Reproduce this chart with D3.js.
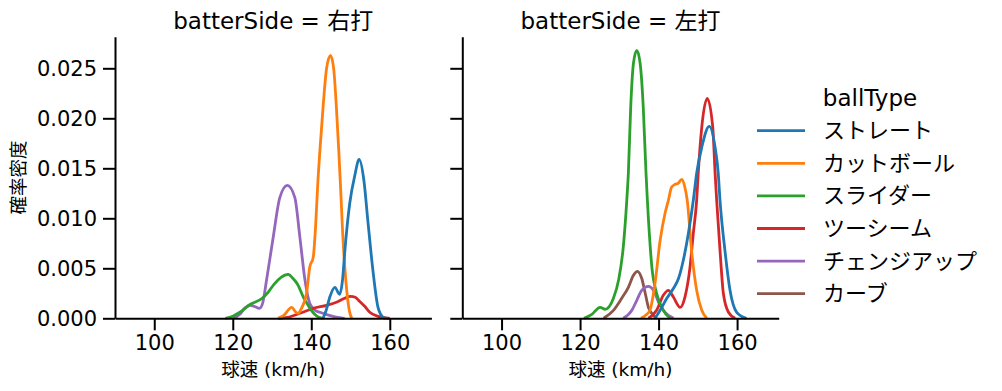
<!DOCTYPE html>
<html>
<head>
<meta charset="utf-8">
<script src="https://cdn.jsdelivr.net/npm/d3@7"></script>
<style>
  body { margin: 0; background: #fff; }
  text { font-family: "DejaVu Sans", "Noto Sans CJK JP", sans-serif; fill: #000; }
</style>
</head>
<body>
<div class="canva"></div>
<script>
// ball types, in hue order
const ballTypes = ["ストレート", "カットボール", "スライダー", "ツーシーム", "チェンジアップ", "カーブ"];
const colors = ["#1f77b4", "#ff7f0e", "#2ca02c", "#d62728", "#9467bd", "#8c564b"];
const sides = ["右打", "左打"];
const xTicks = [100, 120, 140, 160];
const yTicks = [0, 0.005, 0.010, 0.015, 0.020, 0.025];

// KDE curves: [speed, density]
// batterSide = 右打
const straightR = [[143.0,0],[143.8,0.0008],[144.7,0.0021],[146.0,0.0031],[147.2,0.0024],[148.0,0.0040],[148.5,0.0065],[149.8,0.0115],[151.1,0.0143],[152.2,0.0159],[153.4,0.0138],[154.4,0.0098],[155.7,0.0048],[157.0,0.0011],[158.3,0.0001],[158.8,0]];
const cutterR = [[131.5,0],[133.0,0.0003],[135.0,0.0011],[136.1,0.0006],[136.6,0.0005],[137.5,0.0010],[138.8,0.0025],[139.6,0.0051],[140.5,0.0061],[141.1,0.0092],[141.7,0.0138],[142.2,0.0168],[143.0,0.0211],[143.9,0.0250],[144.9,0.0263],[145.7,0.0250],[146.4,0.0211],[147.0,0.0168],[147.5,0.0128],[148.0,0.0085],[148.6,0.0048],[149.4,0.0015],[150.2,0.0001],[150.5,0]];
const sliderR = [[118.1,0],[120.0,0.0002],[121.8,0.0006],[124.5,0.0014],[127.5,0.0020],[129.0,0.0026],[130.5,0.0034],[132.3,0.0041],[134.1,0.0044],[135.3,0.0040],[136.5,0.0034],[138.0,0.0021],[139.2,0.0013],[140.2,0.0007],[141.5,0.0002],[143.0,0]];
const twoSeamR = [[131.6,0],[134.0,0.0001],[137.1,0.0005],[140.5,0.0010],[143.9,0.0013],[146.4,0.0016],[148.5,0.0020],[150.0,0.0022],[151.2,0.0021],[152.3,0.0017],[153.6,0.0012],[154.9,0.0006],[157.0,0.0002],[160.0,0]];
const changeupR = [[120.0,0],[121.8,0.0004],[123.0,0.0010],[124.4,0.0013],[125.5,0.0012],[126.8,0.0010],[127.6,0.0015],[128.6,0.0038],[130.3,0.0081],[132.0,0.0121],[133.9,0.0133],[135.8,0.0121],[137.1,0.0081],[138.4,0.0038],[139.6,0.0015],[141.0,0.0008],[142.2,0.0006],[145.5,0.0002],[148.5,0]];
// batterSide = 左打
const straightL = [[139.1,0],[140.4,0.0008],[142.1,0.0020],[143.8,0.0030],[145.1,0.0040],[146.3,0.0058],[147.6,0.0085],[148.85,0.0118],[149.7,0.0145],[151.0,0.0171],[152.9,0.0192],[154.4,0.0171],[155.2,0.0145],[155.65,0.0118],[156.9,0.0068],[158.2,0.0028],[159.9,0.0006],[162.4,0]];
const cutterL = [[135.5,0],[137.0,0.0004],[137.8,0.0008],[139.1,0.0035],[140.4,0.0078],[141.65,0.0105],[142.5,0.0118],[143.3,0.0131],[144.2,0.0134],[145.0,0.0135],[145.9,0.0139],[146.7,0.0131],[147.3,0.0118],[148.4,0.0068],[149.7,0.0028],[151.0,0.0008],[152.3,0]];
const sliderL = [[121.0,0],[123.0,0.0004],[125.1,0.0011],[126.4,0.0009],[128.5,0.0020],[129.8,0.0038],[131.0,0.0071],[131.9,0.0118],[132.3,0.0145],[132.9,0.0211],[133.6,0.0255],[134.45,0.0268],[135.3,0.0255],[136.1,0.0211],[136.8,0.0145],[137.15,0.0118],[138.3,0.0051],[139.5,0.0025],[141.2,0.0008],[142.9,0]];
const twoSeamL = [[137.4,0],[139.5,0.0008],[141.2,0.0023],[142.5,0.0028],[143.8,0.0021],[145.5,0.0011],[146.7,0.0021],[148.0,0.0051],[148.85,0.0085],[149.7,0.0118],[150.1,0.0145],[151.0,0.0191],[152.4,0.0220],[153.8,0.0191],[154.4,0.0145],[154.8,0.0118],[155.65,0.0068],[156.5,0.0025],[157.8,0.0006],[159.5,0]];
const changeupL = [[131.0,0],[133.2,0.0008],[134.45,0.0018],[135.7,0.0028],[137.4,0.0032],[138.7,0.0028],[140.0,0.0016],[141.65,0.0006],[143.8,0]];
const curveL = [[126.0,0],[128.5,0.0008],[130.6,0.0020],[132.3,0.0031],[133.6,0.0043],[134.6,0.0047],[135.7,0.0040],[136.6,0.0025],[137.4,0.0011],[138.7,0.0003],[139.5,0]];

const panelData = [
  [straightR, cutterR, sliderR, twoSeamR, changeupR, null],
  [straightL, cutterL, sliderL, twoSeamL, changeupL, curveL]
];

const svg = d3.select(".canva").append("svg")
  .attr("width", 1002)
  .attr("height", 391);

const panelLeft = [115, 462.3];
const panelWidth = 316.4;
const plotTop = 36.7, plotBottom = 318.3;

const y = d3.scaleLinear().domain([0, 0.02816]).range([plotBottom, plotTop]);

sides.forEach(function(side, p) {
  const x = d3.scaleLinear().domain([90, 170.6]).range([panelLeft[p], panelLeft[p] + panelWidth]);
  const g = svg.append("g");

  // curves, last hue drawn first
  const line = d3.line()
    .x(d => x(d[0]))
    .y(d => y(d[1]))
    .curve(d3.curveMonotoneX);
  for (let i = ballTypes.length - 1; i >= 0; i--) {
    const data = panelData[p][i];
    if (!data) continue;
    g.append("path")
      .datum(data)
      .attr("d", line)
      .attr("fill", "none")
      .attr("stroke", colors[i])
      .attr("stroke-width", 2.8)
      .attr("stroke-linejoin", "round")
      .attr("stroke-linecap", "butt");
  }

  // axes
  const xAxis = g.append("g")
    .attr("transform", `translate(0, ${plotBottom})`)
    .call(d3.axisBottom(x).tickValues(xTicks).tickSize(12).tickSizeOuter(0).tickPadding(5));
  const yAxis = g.append("g")
    .attr("transform", `translate(${panelLeft[p]}, 0)`)
    .call(d3.axisLeft(y).tickValues(yTicks).tickSize(12).tickSizeOuter(0).tickPadding(6)
      .tickFormat(p === 0 ? d3.format(".3f") : ""));
  [xAxis, yAxis].forEach(a => {
    a.selectAll("path, line").attr("stroke", "#000").attr("stroke-width", 2);
    a.selectAll("text").style("font-size", "21px").attr("fill", "#000");
  });

  // facet title
  svg.append("text")
    .attr("x", panelLeft[p] + panelWidth / 2)
    .attr("y", 29)
    .attr("text-anchor", "middle")
    .style("font-size", "23px")
    .text("batterSide = " + side);

  // x label
  svg.append("text")
    .attr("x", panelLeft[p] + panelWidth / 2)
    .attr("y", 376)
    .attr("text-anchor", "middle")
    .style("font-size", "18.5px")
    .text("球速 (km/h)");
});

// y label
svg.append("text")
  .attr("transform", `translate(25, ${(plotTop + plotBottom) / 2}) rotate(-90)`)
  .attr("text-anchor", "middle")
  .style("font-size", "18.5px")
  .text("確率密度");

// legend
const legend = svg.append("g");
legend.append("text")
  .attr("x", 870).attr("y", 106)
  .attr("text-anchor", "middle")
  .style("font-size", "23px")
  .text("ballType");
ballTypes.forEach(function(t, i) {
  const ly = 130.7 + i * 32.6;
  legend.append("line")
    .attr("x1", 757).attr("x2", 805)
    .attr("y1", ly).attr("y2", ly)
    .attr("stroke", colors[i]).attr("stroke-width", 2.8);
  legend.append("text")
    .attr("x", 823).attr("y", ly)
    .attr("dominant-baseline", "central")
    .style("font-size", "22px")
    .text(t);
});
</script>
</body>
</html>
